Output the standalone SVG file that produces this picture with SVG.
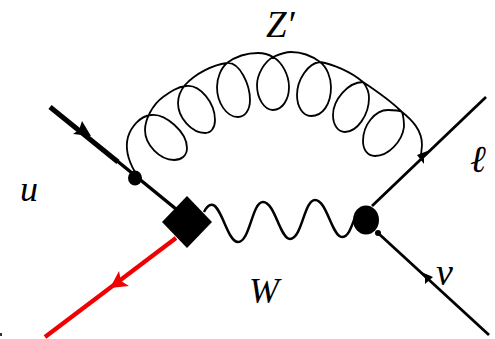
<svg xmlns="http://www.w3.org/2000/svg" width="495" height="339" viewBox="0 0 495 339">
<style>
.l{fill:none;stroke:#000;stroke-linecap:butt}
.t{font-family:"Liberation Serif",serif;font-style:italic;fill:#000}
</style>
<rect width="495" height="339" fill="#fff"/>
<g id="connectors">
<path class="l" stroke-width="5" d="M50,107L118,162"/>
<path class="l" stroke-width="3.500" d="M116,160L176,209"/>
<path d="M82,121L91,136L73,134L79,130Z" fill="#000"/>
<path class="l" stroke-width="4.300" style="stroke:#f00001" d="M176,238L45,337"/>
<path d="M119,271L110,288L129,286L121,281Z" fill="#f00001"/>
<path class="l" stroke-width="2.800" d="M372,206L486,97"/>
<path d="M430,150L417,155L424,164L424,157Z" fill="#000"/>
<path class="l" stroke-width="2.800" d="M378,233L489,335"/>
<path d="M419,271L433,277L425,284L425,278Z" fill="#000"/>
<circle cx="378" cy="233" r="3" fill="#000"/>
<path class="l" stroke-width="1.800" d="M135,172C128,160 125,148 128,137C131,127 140,116 151,115C165,113 187,132 187,148C187,156 181,160 174,160C160,160 145,145 145,130C145,120 152,105 163,97C170,92 177,87 186,86C200,84 215,103 215,120C215,128 211,133 205,133C192,133 178,118 178,103C178,96 181,90 185,85C195,74 212,65 227,63C240,62 250,85 250,100C250,110 245,117 238,117C226,117 217,102 217,87C217,78 221,68 227,63C235,57 247,53 258,53C263,53 268,54 273,57C282,62 289,75 289,87C289,100 282,110 273,110C264,110 257,98 257,85C257,75 264,62 273,57C280,54 285,52 291,52C302,52 312,56 320,62C327,67 331,78 331,87C331,104 323,116 311,116C303,116 297,107 297,95C297,80 308,63 320,62C332,64 350,71 363,82C367,87 369,92 369,98C369,115 357,132 345,132C338,132 333,125 333,115C333,100 348,82 363,82C375,90 392,102 402,112C404,118 404,122 404,127C402,142 388,156 375,156C367,156 363,149 363,141C363,125 375,110 388,110C394,110 399,110 402,112C412,120 422,130 422,145L421,155"/>
<path class="l" stroke-width="2.500" d="M204,212C207,206 210,204 213,205C222,208 228,242 238,242C250,242 252,202 263,202C275,202 280,239 290,239C302,239 304,200 315,200C327,200 332,237 342,237C348,237 351,228 354,220"/>
</g>
<g id="vertex-a"><ellipse cx="135" cy="178" rx="7" ry="7.500" fill="#000"/></g>
<g id="vertex-b"><path d="M187,196L212,222L187,248L162,222Z" fill="#000"/></g>
<g id="vertex-c"><ellipse cx="366" cy="220" rx="13" ry="14.500" fill="#000"/></g>
<g id="labels">
<text class="t" x="266" y="37" font-size="37">Z′</text>
<text class="t" x="20" y="201" font-size="36">u</text>
<text class="t" x="249" y="303" font-size="36">W</text>
<text class="t" x="436" y="285" font-size="38">ν</text>
<text class="t" x="470" y="172" font-size="38">ℓ</text>
</g>
<rect id="speck" x="0" y="333" width="2" height="3" fill="#333"/>
</svg>
